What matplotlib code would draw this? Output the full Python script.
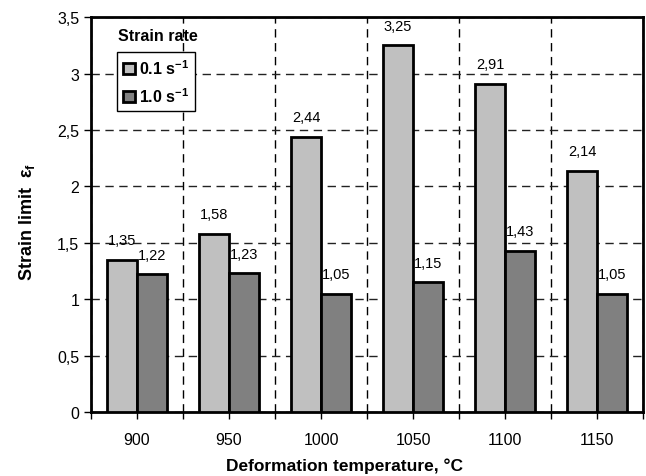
import matplotlib.pyplot as plt
import numpy as np
from matplotlib.ticker import FixedLocator, MultipleLocator, FuncFormatter
from matplotlib.patches import Patch

plt.rcParams['font.family'] = ['Liberation Sans', 'DejaVu Sans']
plt.rcParams['mathtext.fontset'] = 'custom'
plt.rcParams['mathtext.rm'] = 'Liberation Sans'
plt.rcParams['mathtext.bf'] = 'Liberation Sans:bold'
plt.rcParams['mathtext.it'] = 'Liberation Sans:italic'

# data
temps = ['900', '950', '1000', '1050', '1100', '1150']
rate_01 = [1.35, 1.58, 2.44, 3.25, 2.91, 2.14]
rate_10 = [1.22, 1.23, 1.05, 1.15, 1.43, 1.05]
series_names = ['0.1 s$^{\\mathbf{-1}}$', '1.0 s$^{\\mathbf{-1}}$']

fig = plt.figure(figsize=(6.46, 4.77), dpi=100)
ax = fig.add_axes([0.1409, 0.134, 0.8545, 0.828])

x = np.arange(len(temps))
w = 0.326
b1 = ax.bar(x - w / 2, rate_01, w, color='#c0c0c0', edgecolor='black', linewidth=2, zorder=3)
b2 = ax.bar(x + w / 2, rate_10, w, color='#808080', edgecolor='black', linewidth=2, zorder=3)

# value labels with comma decimal
def comma(v):
    return ('%.2f' % v).replace('.', ',')

for bars, vals in ((b1, rate_01), (b2, rate_10)):
    for r, v in zip(bars, vals):
        ax.annotate(comma(v), (r.get_x() + r.get_width() / 2, v), xytext=(0, 14),
                    textcoords='offset points', ha='center', va='center', fontsize=10.5,
                    zorder=4)

ax.set_xlim(-0.5, len(temps) - 0.5)
ax.set_ylim(0, 3.5)

# ticks at centres (labels) and at boundaries (grid)
ax.set_xticks(x)
ax.set_xticklabels(temps, fontsize=11.5)
ax.xaxis.set_minor_locator(FixedLocator(np.arange(-0.5, len(temps), 1.0)))
ax.yaxis.set_major_locator(MultipleLocator(0.5))
ax.yaxis.set_major_formatter(FuncFormatter(lambda v, p: ('%g' % v).replace('.', ',')))
ax.tick_params(axis='y', labelsize=11.5, length=5, width=1)
ax.tick_params(axis='x', which='both', length=5, width=1, pad=9)

ax.grid(True, axis='x', which='minor', color='black', linestyle=(0, (6, 4)), linewidth=1, zorder=1)
ax.grid(True, axis='y', which='major', color='#222222', linestyle=(0, (6, 4)), linewidth=1, zorder=1)
ax.set_axisbelow(True)

for s in ax.spines.values():
    s.set_linewidth(2)

fig.text(345 / 646, 1 - 466 / 477, 'Deformation temperature, °C', fontsize=12.5,
         fontweight='bold', ha='center', va='center')
fig.text(27 / 646, 1 - 222 / 477, 'Strain limit  ε$_\\mathbf{f}$', fontsize=13,
         fontweight='bold', ha='center', va='center', rotation=90)

# legend
handles = [Patch(facecolor='#c0c0c0', edgecolor='black', linewidth=2),
           Patch(facecolor='#808080', edgecolor='black', linewidth=2)]
leg = ax.legend(handles, series_names, loc='upper left', bbox_to_anchor=(0.047, 0.911),
                prop={'weight': 'bold', 'size': 11.5}, handlelength=0.7, handleheight=0.7,
                handletextpad=0.25, borderpad=0.4, labelspacing=0.55, borderaxespad=0,
                fancybox=False, framealpha=1, edgecolor='black')
leg.get_frame().set_linewidth(1)
ax.text(0.049, 0.954, 'Strain rate', transform=ax.transAxes, fontsize=11.5,
        fontweight='bold', va='center', ha='left')

fig.savefig('out.png', dpi=100)
